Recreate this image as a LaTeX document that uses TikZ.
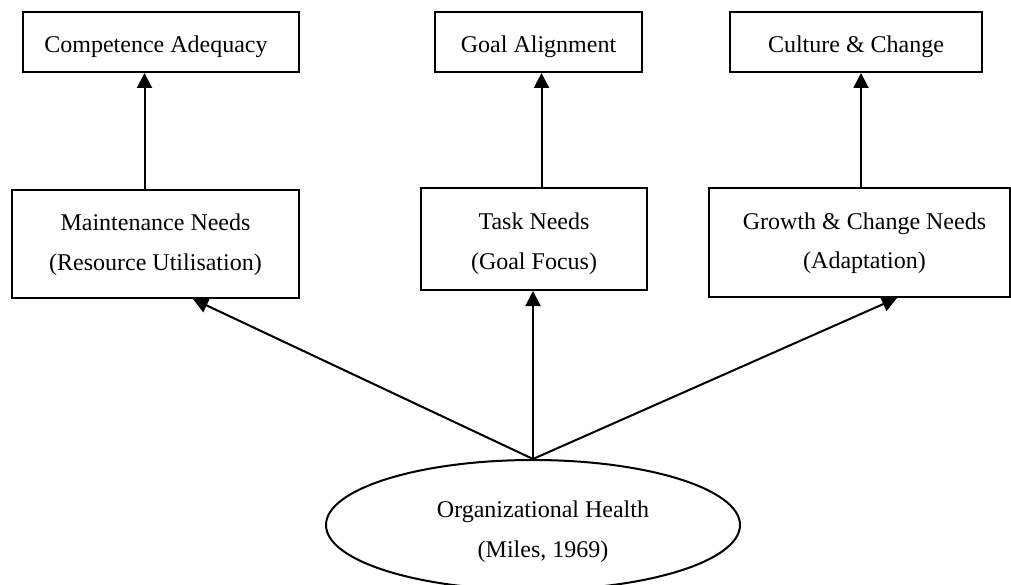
\documentclass[tikz,border=0pt]{standalone}
\usepackage{fontspec}
\setmainfont{Liberation Serif}
\usetikzlibrary{arrows.meta,shapes.geometric}
% two centred lines, raised by #1 and shifted sideways by #2 (half of it)
\newcommand{\twolines}[4]{\hspace*{#2}\raisebox{#1}[\height][\depth]{\begin{tabular}{@{}c@{}}#3\\#4\end{tabular}}}
\begin{document}
\begin{tikzpicture}[x=1pt,y=-1pt,
  every node/.style={font=\fontsize{24}{40}\selectfont, inner sep=0pt},
  box/.style={draw, line width=2pt, rectangle},
  oneline/.style={text height=22pt, text depth=0pt},
  oval/.style={draw, line width=2pt, ellipse},
  arr/.style={line width=2pt, -{Triangle[width=15pt,length=15pt]}}]
\useasboundingbox (0,0) rectangle (1011,585);
% top row
\node[box, oneline, minimum width=276pt, minimum height=60pt] (comp) at (161,42) {\hspace*{-10pt}Competence Adequacy};
\node[box, oneline, minimum width=207pt, minimum height=60pt] (goal) at (538.5,42) {Goal Alignment};
\node[box, oneline, minimum width=252pt, minimum height=60pt] (cult) at (856,42) {Culture \& Change};
% middle row
\node[box, minimum width=287pt, minimum height=108pt] (maint) at (155.5,244) {\twolines{1.3pt}{0pt}{Maintenance Needs}{(Resource Utilisation)}};
\node[box, minimum width=226pt, minimum height=102pt] (task) at (534,239) {\twolines{-3pt}{0pt}{Task Needs}{(Goal Focus)}};
\node[box, minimum width=301pt, minimum height=109pt] (grow) at (859.5,242.5) {\twolines{1.5pt}{10pt}{Growth \& Change Needs}{(Adaptation)}};
% bottom
\node[oval, minimum width=414pt, minimum height=130pt] (oh) at (533,525) {\twolines{-4pt}{20pt}{Organizational Health}{(Miles, 1969)}};
% arrow x positions
\coordinate (ax1) at (144.5,0);
\coordinate (ax2) at (541.5,0);
\coordinate (ax3) at (861,0);
\coordinate (bx1) at (193,0);
\coordinate (bx3) at (897,0);
% upward arrows
\draw[arr] (maint.north -| ax1) -- (comp.south -| ax1);
\draw[arr] (task.north -| ax2) -- (goal.south -| ax2);
\draw[arr] (grow.north -| ax3) -- (cult.south -| ax3);
% arrows from ellipse
\draw[arr] (oh.north) -- (maint.south -| bx1);
\draw[arr] (oh.north) -- (task.south -| oh.north);
\draw[arr] (oh.north) -- (grow.south -| bx3);
\end{tikzpicture}
\end{document}
